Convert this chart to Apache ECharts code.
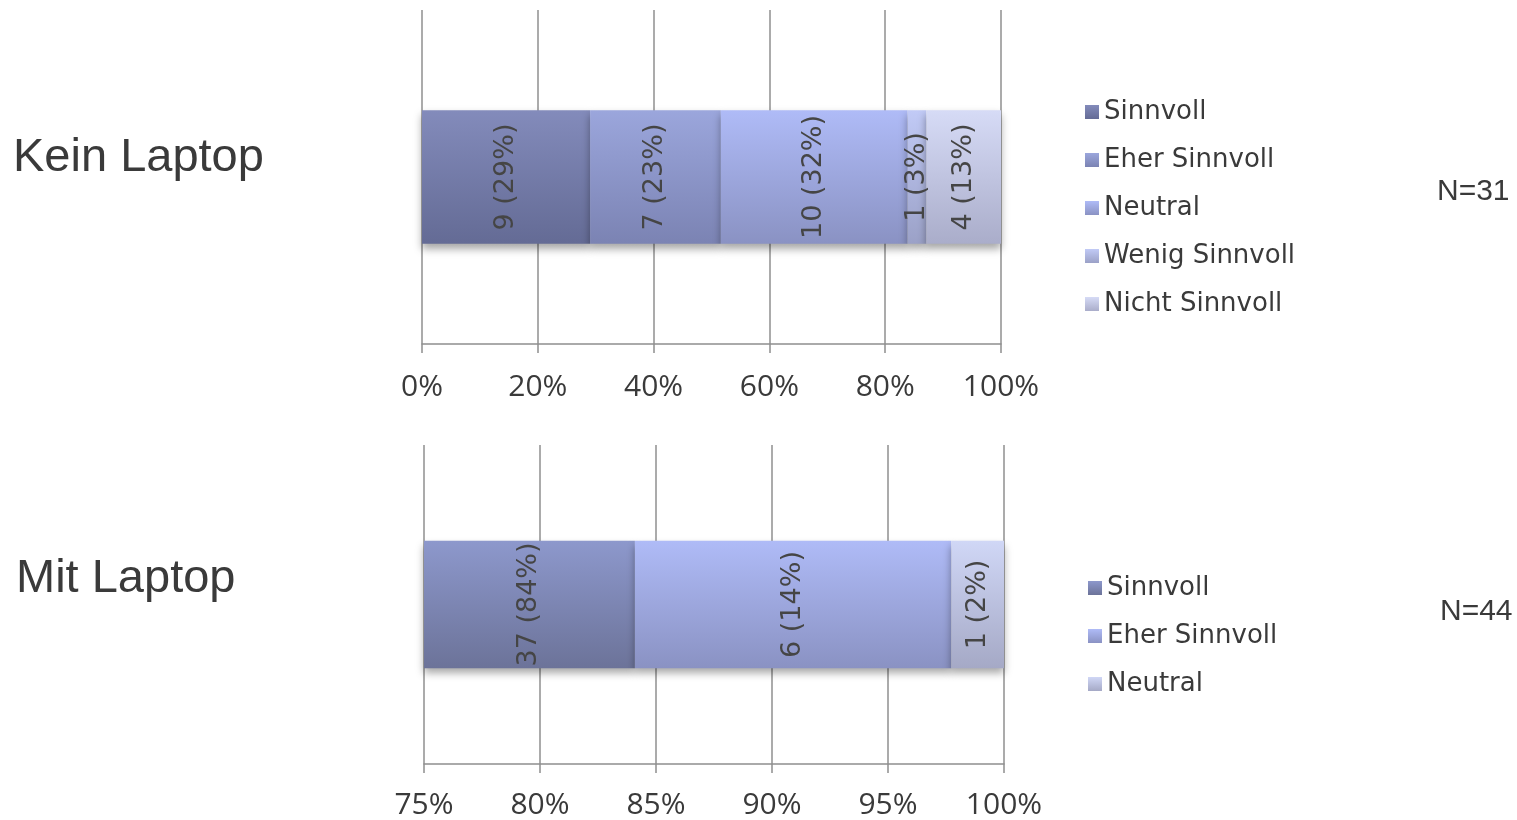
<!DOCTYPE html>
<html>
<head>
<meta charset="utf-8">
<title>Laptop – Bewertung</title>
<script src="https://cdn.jsdelivr.net/npm/echarts@6/dist/echarts.min.js"></script>
<style>
  html, body { margin: 0; padding: 0; background: #ffffff; }
  #chart { width: 1517px; height: 820px; }
</style>
</head>
<body>
<div id="chart"></div>
<script>
// Groups and answer counts
const groups = ['Kein Laptop', 'Mit Laptop'];

const keinNames = ['Sinnvoll', 'Eher Sinnvoll', 'Neutral', 'Wenig Sinnvoll', 'Nicht Sinnvoll'];
const keinCounts = [9, 7, 10, 1, 4];

const mitNames = ['Sinnvoll', 'Eher Sinnvoll', 'Neutral'];
const mitCounts = [37, 6, 1];

// Axis ranges (shares of respondents)
const keinAxis = { min: 0, max: 1, step: 0.2 };
const mitAxis = { min: 0.75, max: 1, step: 0.05 };

// Vertical gradients per segment: [top, bottom]
const keinColors = [
  ['#838bbb', '#646b95'],
  ['#9ba6dc', '#7b83b3'],
  ['#afbbf7', '#8a92c3'],
  ['#c1caf6', '#9ba1c7'],
  ['#d6dbf6', '#aaadca']
];
const mitColors = [
  ['#8d98cc', '#6c7399'],
  ['#afbbf7', '#8a92c3'],
  ['#d0d7f6', '#a5a9c6']
];

const chart = echarts.init(document.getElementById('chart'), null, { renderer: 'canvas' });

const gridColor = '#8f8f8f';
const textColor = '#3a3a3a';

function grad(pair) {
  return new echarts.graphic.LinearGradient(0, 0, 0, 1, [
    { offset: 0, color: pair[0] },
    { offset: 1, color: pair[1] }
  ]);
}

function total(arr) { return arr.reduce((a, b) => a + b, 0); }

function makeSeries(names, counts, colors, axisIndex, stackId) {
  const n = total(counts);
  return names.map((name, i) => ({
    name: name,
    type: 'bar',
    stack: stackId,
    xAxisIndex: axisIndex,
    yAxisIndex: axisIndex,
    barCategoryGap: '60%',
    data: [counts[i] / n],
    itemStyle: {
      color: grad(colors[i]),
      shadowColor: 'rgba(0,0,0,0.35)',
      shadowBlur: 8,
      shadowOffsetY: 5
    },
    label: {
      show: true,
      position: 'inside',
      rotate: 90,
      fontFamily: 'DejaVu Sans',
      fontSize: 27,
      color: '#454545',
      formatter: () => counts[i] + ' (' + Math.round(counts[i] / n * 100) + '%)'
    },
    emphasis: { disabled: true }
  }));
}

function valueAxis(gridIndex, range, margin) {
  return {
    type: 'value',
    gridIndex: gridIndex,
    min: range.min,
    max: range.max,
    interval: range.step,
    axisLine: { show: true, lineStyle: { color: gridColor, width: 1.5 } },
    axisTick: { show: true, length: 9, lineStyle: { color: gridColor, width: 1.5 } },
    splitLine: { show: true, lineStyle: { color: gridColor, width: 1.5 } },
    axisLabel: {
      margin: margin,
      fontFamily: 'Open Sans',
      fontSize: 30,
      color: textColor,
      formatter: v => Math.round(v * 100) + '%'
    }
  };
}

function categoryAxis(gridIndex, name) {
  return {
    type: 'category',
    gridIndex: gridIndex,
    data: [name],
    axisLine: { show: false },
    axisTick: { show: false },
    axisLabel: { show: false },
    splitLine: { show: false }
  };
}

function legendData(names, colors) {
  return names.map((name, i) => ({ name: name, itemStyle: { color: grad(colors[i]) } }));
}

const legendText = { fontFamily: 'DejaVu Sans', fontSize: 26, color: textColor, lineHeight: 26 };

const option = {
  animation: false,
  backgroundColor: '#ffffff',
  grid: [
    { left: 422, width: 579, top: 10, height: 334 },
    { left: 424, width: 580, top: 445, height: 319 }
  ],
  xAxis: [valueAxis(0, keinAxis, 28), valueAxis(1, mitAxis, 26)],
  yAxis: [categoryAxis(0, groups[0]), categoryAxis(1, groups[1])],
  legend: [
    {
      orient: 'vertical', left: 1080, top: 94,
      itemWidth: 14, itemHeight: 14, itemGap: 22, icon: 'rect',
      selectedMode: false,
      textStyle: legendText,
      data: legendData(keinNames, keinColors)
    },
    {
      orient: 'vertical', left: 1083, top: 570,
      itemWidth: 14, itemHeight: 14, itemGap: 22, icon: 'rect',
      selectedMode: false,
      textStyle: legendText,
      data: legendData(mitNames, mitColors)
    }
  ],
  graphic: [
    { type: 'text', left: 13, top: 135, style: { text: groups[0], font: '47px "Liberation Sans"', fill: textColor } },
    { type: 'text', left: 16, top: 556, style: { text: groups[1], font: '47px "Liberation Sans"', fill: textColor } },
    { type: 'text', left: 1437, top: 177, style: { text: 'N=' + total(keinCounts), font: '30px "Liberation Sans"', fill: textColor } },
    { type: 'text', left: 1440, top: 597, style: { text: 'N=' + total(mitCounts), font: '30px "Liberation Sans"', fill: textColor } }
  ],
  series: [
    ...makeSeries(keinNames, keinCounts, keinColors, 0, 'kein'),
    ...makeSeries(mitNames, mitCounts, mitColors, 1, 'mit')
  ]
};

chart.setOption(option);
</script>
</body>
</html>
